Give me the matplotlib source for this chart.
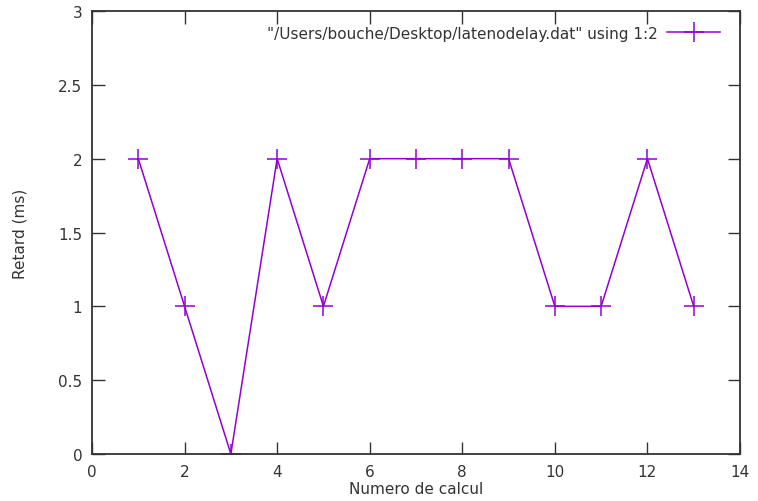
import matplotlib.pyplot as plt

calcul = [1, 2, 3, 4, 5, 6, 7, 8, 9, 10, 11, 12, 13]
retard = [2, 1, 0, 2, 1, 2, 2, 2, 2, 1, 1, 2, 1]

xticks = [0, 2, 4, 6, 8, 10, 12, 14]
yticks = [0, 0.5, 1, 1.5, 2, 2.5, 3]
yticklabels = ["0", "0.5", "1", "1.5", "2", "2.5", "3"]

fig = plt.figure(figsize=(7.58, 5.02), dpi=100)
ax = fig.add_axes([92 / 758, 1 - 455 / 502, (740 - 92) / 758, (455 - 12) / 502])

ax.plot(calcul, retard, color="#9400d3", lw=1.1, marker="+", ms=14, mew=1.1,
        label='"/Users/bouche/Desktop/latenodelay.dat" using 1:2')

ax.set_xlim(0, 14)
ax.set_ylim(0, 3)
ax.set_xticks(xticks)
ax.set_yticks(yticks)
ax.set_yticklabels(yticklabels)

for s in ax.spines.values():
    s.set_color("#333333")
    s.set_linewidth(1.3)

ax.tick_params(direction="in", length=9, width=1, color="#333333",
               top=True, right=True, labelsize=11, labelcolor="#333333", pad=7)

ax.set_xlabel("Numero de calcul", fontsize=11, color="#333333", labelpad=2)
ax.set_ylabel("Retard (ms)", fontsize=11, color="#333333", labelpad=22)

# legend sits at the top right like gnuplot's key, marker after text
leg = ax.legend(loc="upper right", bbox_to_anchor=(0.992, 1.0), frameon=False,
                fontsize=11, handlelength=3.5, markerfirst=False,
                borderaxespad=0.55, handletextpad=0.6)
for t in leg.get_texts():
    t.set_color("#333333")

fig.savefig("out.png", dpi=100)
